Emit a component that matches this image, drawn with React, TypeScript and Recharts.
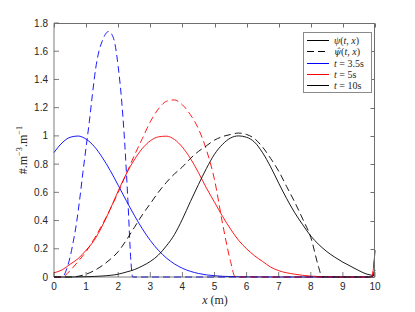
import React from 'react';
import { LineChart, Line, XAxis, YAxis } from 'recharts';

const xTicks = [0, 1, 2, 3, 4, 5, 6, 7, 8, 9, 10];
const yTicks = [0, 0.2, 0.4, 0.6, 0.8, 1, 1.2, 1.4, 1.6, 1.8];

// psi(t,x), t = 3.5s
const blueSolidX = [0, 0.25, 0.5, 0.75, 1, 1.25, 1.5, 1.75, 2, 2.25, 2.5, 2.75, 3, 3.25, 3.5, 3.75, 4, 4.5, 5, 5.5, 6, 7, 8, 9, 9.9, 10];
const blueSolidY = [0.882, 0.95, 0.99, 0.999, 0.977, 0.926, 0.849, 0.755, 0.65, 0.542, 0.438, 0.342, 0.259, 0.19, 0.135, 0.093, 0.062, 0.025, 0.009, 0.003, 0.001, 0, 0, 0, 0, 0.05];

// psi hat, t = 3.5s
const blueDashX = [0, 0.2, 0.3, 0.4, 0.5, 0.6, 0.7, 0.8, 0.9, 1, 1.1, 1.2, 1.3, 1.4, 1.5, 1.6, 1.7, 1.8, 1.9, 2, 2.1, 2.2, 2.3, 2.4, 2.45, 3, 9.9, 10];
const blueDashY = [0, 0, 0.01, 0.06, 0.14, 0.25, 0.38, 0.55, 0.74, 0.92, 1.1, 1.3, 1.48, 1.6, 1.67, 1.72, 1.74, 1.72, 1.65, 1.49, 1.27, 0.96, 0.55, 0.1, 0, 0, 0, 0.05];

// psi(t,x), t = 5s
const redSolidX = [0, 0.25, 0.5, 0.75, 1, 1.25, 1.5, 1.75, 2, 2.25, 2.5, 2.75, 3, 3.25, 3.5, 3.75, 4, 4.25, 4.5, 4.75, 5, 5.25, 5.5, 5.75, 6, 6.25, 6.5, 6.75, 7, 7.5, 8, 8.5, 9, 9.9, 10];
const redSolidY = [0.03, 0.05, 0.09, 0.13, 0.19, 0.26, 0.36, 0.48, 0.61, 0.73, 0.83, 0.91, 0.965, 0.993, 0.998, 0.975, 0.92, 0.84, 0.74, 0.63, 0.53, 0.43, 0.34, 0.26, 0.2, 0.15, 0.11, 0.07, 0.045, 0.02, 0.006, 0.002, 0, 0, 0.19];

// psi hat, t = 5s
const redDashX = [0, 0.25, 0.5, 0.75, 1, 1.25, 1.5, 1.75, 2, 2.25, 2.5, 2.75, 3, 3.25, 3.5, 3.75, 4, 4.25, 4.5, 4.75, 5, 5.25, 5.5, 5.65, 6, 9.9, 10];
const redDashY = [0, 0, 0.045, 0.11, 0.18, 0.27, 0.37, 0.48, 0.6, 0.73, 0.86, 0.98, 1.1, 1.19, 1.245, 1.255, 1.22, 1.15, 1.05, 0.9, 0.69, 0.38, 0.11, 0, 0, 0, 0.19];

// psi(t,x), t = 10s
const blackSolidX = [0, 0.5, 1, 1.5, 2, 2.25, 2.5, 2.75, 3, 3.25, 3.5, 3.75, 4, 4.25, 4.5, 4.75, 5, 5.25, 5.5, 5.75, 6, 6.25, 6.5, 6.75, 7, 7.25, 7.5, 7.75, 8, 8.25, 8.5, 8.75, 9, 9.25, 9.5, 9.75, 10];
const blackSolidY = [0, 0, 0.002, 0.007, 0.02, 0.035, 0.052, 0.078, 0.11, 0.155, 0.22, 0.3, 0.41, 0.535, 0.655, 0.77, 0.87, 0.94, 0.985, 1, 0.99, 0.955, 0.88, 0.78, 0.665, 0.555, 0.455, 0.37, 0.29, 0.23, 0.18, 0.14, 0.105, 0.075, 0.045, 0.02, 0.01];

// psi hat, t = 10s
const blackDashX = [0, 0.5, 0.75, 1, 1.25, 1.5, 1.75, 2, 2.25, 2.5, 2.75, 3, 3.25, 3.5, 3.75, 4, 4.25, 4.5, 4.75, 5, 5.25, 5.5, 5.75, 6, 6.25, 6.5, 6.75, 7, 7.25, 7.5, 7.75, 8, 8.25, 8.35, 9, 10];
const blackDashY = [0, 0, 0.005, 0.02, 0.045, 0.08, 0.125, 0.18, 0.26, 0.35, 0.44, 0.52, 0.6, 0.67, 0.73, 0.78, 0.84, 0.89, 0.93, 0.97, 0.995, 1.01, 1.02, 1.01, 0.98, 0.92, 0.84, 0.75, 0.64, 0.53, 0.41, 0.28, 0.065, 0, 0, 0];

const pts = (xs: number[], ys: number[]) => xs.map((x, i) => ({ x, y: ys[i] }));

const series = [
  { name: 'blueSolid', data: pts(blueSolidX, blueSolidY), color: '#0000ff', dash: undefined },
  { name: 'redSolid', data: pts(redSolidX, redSolidY), color: '#ff0000', dash: undefined },
  { name: 'blackSolid', data: pts(blackSolidX, blackSolidY), color: '#000000', dash: undefined },
  { name: 'blueDash', data: pts(blueDashX, blueDashY), color: '#0000ff', dash: '7 4' },
  { name: 'redDash', data: pts(redDashX, redDashY), color: '#ff0000', dash: '7 4' },
  { name: 'blackDash', data: pts(blackDashX, blackDashY), color: '#000000', dash: '7 4' },
];

const xMax = 10;
const yMax = 1.8;

// plot box (chart margins + axis sizes below give this area)
const W = 415;
const H = 312;
const box = { left: 54, top: 23, right: 375, bottom: 277 };

const axisColor = '#262626';
const frameColor = '#6e6e6e';
const tickFont = { fill: axisColor, fontSize: 10, fontFamily: 'Liberation Sans' };
const serif = '"Liberation Serif", serif';

const legendRows = [
  { color: '#000', dash: undefined, label: <><i>ψ</i>(<i>t</i>, <i>x</i>)</> },
  { color: '#000', dash: '7 4', label: <><i style={{ fontFamily: '"DejaVu Serif"', fontSize: 9 }}>ψ̂</i>(<i>t</i>, <i>x</i>)</> },
  { color: '#0000ff', dash: undefined, label: <><i>t</i> = 3.5s</> },
  { color: '#ff0000', dash: undefined, label: <><i>t</i> = 5s</> },
  { color: '#000', dash: undefined, label: <><i>t</i> = 10s</> },
];

// top and right edges of the MATLAB-style box, with inward ticks
function BoxFrame() {
  const bw = box.right - box.left;
  const bh = box.bottom - box.top;
  const top = box.top + 0.5;
  const right = box.right - 0.5;
  return (
    <svg width={W} height={H} style={{ position: 'absolute', left: 0, top: 0, pointerEvents: 'none' }}>
      <g stroke={frameColor} strokeWidth={1} fill="none">
        <line x1={box.left} y1={top} x2={box.right} y2={top} />
        <line x1={right} y1={box.top} x2={right} y2={box.bottom} />
        {xTicks.map((t) => {
          const x = Math.round(box.left + (t / xMax) * bw) + 0.5;
          return <line key={'tx' + t} x1={x} y1={top} x2={x} y2={top + 4} />;
        })}
        {yTicks.map((t) => {
          const y = Math.round(box.bottom - (t / yMax) * bh) + 0.5;
          return <line key={'ty' + t} x1={right} y1={y} x2={right - 4} y2={y} />;
        })}
      </g>
    </svg>
  );
}

export default function App() {
  return (
    <div style={{ position: 'absolute', left: 0, top: 0, width: W, height: H, background: '#fff' }}>
      <LineChart width={W} height={H} margin={{ top: box.top, right: W - box.right, bottom: 0, left: 0 }}>
        <XAxis
          dataKey="x"
          type="number"
          domain={[0, xMax]}
          ticks={xTicks}
          interval={0}
          height={H - box.bottom}
          tickSize={-5}
          tickMargin={11}
          stroke={axisColor}
          strokeWidth={0.6}
          tick={tickFont}
        />
        <YAxis
          type="number"
          domain={[0, yMax]}
          ticks={yTicks}
          interval={0}
          width={box.left}
          tickSize={-5}
          tickMargin={11}
          stroke={axisColor}
          strokeWidth={0.6}
          tick={tickFont}
        />
        {series.map((s) => (
          <Line
            key={s.name}
            data={s.data}
            dataKey="y"
            type="monotone"
            stroke={s.color}
            strokeWidth={0.9}
            strokeDasharray={s.dash}
            dot={false}
            activeDot={false}
            isAnimationActive={false}
          />
        ))}
      </LineChart>

      <BoxFrame />

      <div
        style={{
          position: 'absolute', left: 23, top: 150, transform: 'translate(-50%, -50%) rotate(-90deg)',
          fontFamily: serif, fontSize: 12, color: axisColor, whiteSpace: 'nowrap',
        }}
      >
        #.m<sup style={{ fontSize: '70%' }}>−3</sup>.m<sup style={{ fontSize: '70%' }}>−1</sup>
      </div>
      <div
        style={{
          position: 'absolute', left: 215, top: 300, transform: 'translate(-50%, -50%)',
          fontFamily: serif, fontSize: 12, lineHeight: '12px', color: axisColor, whiteSpace: 'nowrap',
        }}
      >
        <i>x</i> (m)
      </div>

      <div
        style={{
          position: 'absolute', left: 303, top: 32, width: 69, height: 61, boxSizing: 'border-box',
          border: '1px solid #8a8a8a', background: '#fff', fontFamily: serif, fontSize: 10, color: axisColor,
        }}
      >
        {legendRows.map((r, i) => (
          <div key={i} style={{ position: 'absolute', left: 3, top: 2 + i * 11.3, height: 11, lineHeight: '11px', display: 'flex', alignItems: 'center', whiteSpace: 'nowrap' }}>
            <svg width={23} height={11} style={{ marginRight: 4 }}>
              <line x1={0} y1={5.5} x2={22} y2={5.5} stroke={r.color} strokeWidth={1} strokeDasharray={r.dash} />
            </svg>
            <span>{r.label}</span>
          </div>
        ))}
      </div>
    </div>
  );
}
